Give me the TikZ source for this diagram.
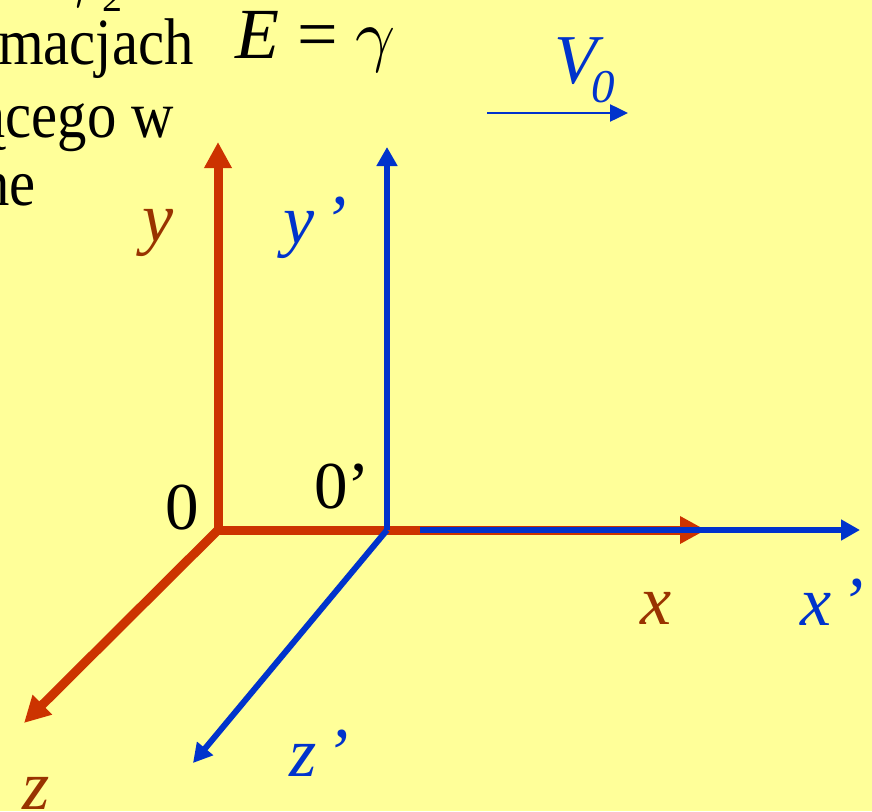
\documentclass[tikz,border=0pt]{standalone}
\usepackage{fontspec}
\setmainfont{Liberation Serif}
\newfontfamily\condserif[FakeStretch=0.89]{Liberation Serif}
\usetikzlibrary{arrows.meta}
\definecolor{bgyellow}{HTML}{FFFF99}
\definecolor{axred}{HTML}{CC3300}
\definecolor{labbrown}{HTML}{993300}
\definecolor{axblue}{HTML}{0033CC}
\newcommand{\biggamma}{\scalebox{7}{\fontsize{10}{12}\selectfont$\gamma$}}
\begin{document}
\begin{tikzpicture}[x=1pt,y=-1pt,
  redaxis/.style={draw=axred,line width=9pt,-{Triangle[length=26pt,width=26pt]}},
  blueaxis/.style={draw=axblue,line width=6pt,-{Triangle[length=19pt,width=20pt]}},
  lab/.style={inner sep=0pt,anchor=base west,font=\fontsize{70}{80}\selectfont\itshape},
  body/.style={inner sep=0pt,anchor=base east,font=\condserif\fontsize{66}{76}\selectfont},
  zero/.style={inner sep=0pt,anchor=base west,font=\fontsize{67}{80}\selectfont}]
\fill[bgyellow] (0,0) rectangle (872,811);
\useasboundingbox (0,0) rectangle (872,811);
% coordinates
\coordinate (O) at (218,530);
\coordinate (Ytip) at (218,142);
\coordinate (Xtip) at (706,530);
\coordinate (Ztip) at (24,723);
\coordinate (Op) at (387,530);
\coordinate (Yptip) at (387,147);
\coordinate (Xpstart) at (420,530);
\coordinate (Xptip) at (860,530);
\coordinate (Zptip) at (193,763);
\coordinate (Vstart) at (487,113);
\coordinate (Vtip) at (628,113);
% red axes
\draw[redaxis,{Triangle[length=26pt,width=26pt]}-{Triangle[length=26pt,width=26pt]}] (Ytip) -- (O) -- (Xtip);
\draw[redaxis,line cap=round] (O) -- (Ztip);
% blue axes
\draw[blueaxis] (Op) -- (Yptip);
\draw[blueaxis] (Xpstart) -- (Xptip);
\draw[blueaxis] (Op) -- (Zptip);
\draw[draw=axblue,line width=2.5pt,-{Triangle[length=18pt,width=17pt]}] (Vstart) -- (Vtip);
% labels
\node[lab,text=labbrown] (ylab) at (142,241) {y};
\node[lab,text=axblue] (yplab) at (283,243) {y\hspace{9pt}’};
\node[lab,text=labbrown] (xlab) at (640,624) {x};
\node[lab,text=axblue] (xplab) at (800,625) {x\hspace{9pt}’};
\node[lab,text=labbrown] (zlab) at (22,809) {z};
\node[lab,text=axblue] (zplab) at (289,776) {z\hspace{9pt}’};
\node[zero] (olab) at (165,529) {0};
\node[zero] (oplab) at (314,508) {0’};
\node[lab,text=axblue] (vlab) at (554,83) {V};
\node[inner sep=0pt,anchor=base west,font=\fontsize{47}{56}\selectfont\itshape,text=axblue] (vsub) at (591,102) {0};
\node[inner sep=0pt,anchor=base west,font=\fontsize{72}{80}\selectfont] (eq) at (235,58) {\textit{E} = \biggamma};
% cropped text at the left
\node[inner sep=0pt,anchor=base west] (gfrag) at (56,-6) {\biggamma};
\node[inner sep=0pt,anchor=base west,font=\fontsize{40}{48}\selectfont] (twofrag) at (102,12) {2};
\node[body] (l1) at (194,64) {macjach};
\node[body] (l2) at (174,137) {ącego w};
\node[body] (l3) at (36,205) {ne};
\end{tikzpicture}
\end{document}
